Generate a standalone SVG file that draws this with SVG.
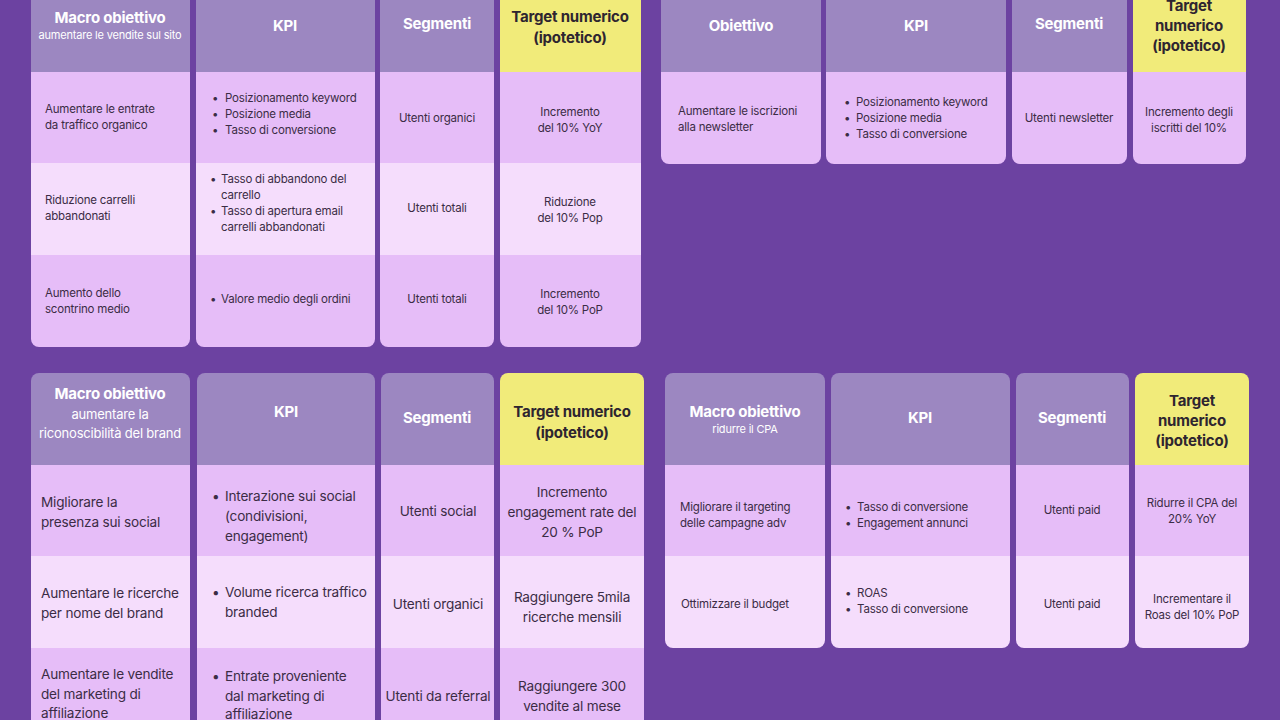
<svg xmlns="http://www.w3.org/2000/svg" width="1280" height="720" viewBox="0 0 1280 720">
<style>
text{font-family:Inter,"Noto Sans",sans-serif;fill:#3b2c45;letter-spacing:-0.2px}
.h{font-weight:700;font-size:15px;fill:#fff;text-anchor:middle}
.hy{font-weight:700;font-size:15px;fill:#2e2530;text-anchor:middle}
.hs{font-size:11px;fill:#fff;text-anchor:middle}
.hm{font-size:13px;fill:#fff;text-anchor:middle}
.s{font-size:11.5px}
.sc{font-size:11.5px;text-anchor:middle}
.l{font-size:13.6px}
.lc{font-size:13.6px;text-anchor:middle}
.hd{fill:#9c87c1}.y{fill:#f1eb7a}.d{fill:#e6bdf8}.li{fill:#f5ddfc}
</style>
<defs>
<clipPath id="t1a"><rect x="31" y="-20" width="159" height="367" rx="8"/></clipPath>
<clipPath id="t1b"><rect x="196" y="-20" width="179" height="367" rx="8"/></clipPath>
<clipPath id="t1c"><rect x="380" y="-20" width="114" height="367" rx="8"/></clipPath>
<clipPath id="t1d"><rect x="500" y="-20" width="141" height="367" rx="8"/></clipPath>
<clipPath id="t2a"><rect x="661" y="-20" width="160" height="184" rx="8"/></clipPath>
<clipPath id="t2b"><rect x="826" y="-20" width="180" height="184" rx="8"/></clipPath>
<clipPath id="t2c"><rect x="1012" y="-20" width="115" height="184" rx="8"/></clipPath>
<clipPath id="t2d"><rect x="1133" y="-20" width="113" height="184" rx="8"/></clipPath>
<clipPath id="t3a"><rect x="31" y="373" width="159" height="380" rx="8"/></clipPath>
<clipPath id="t3b"><rect x="197" y="373" width="178" height="380" rx="8"/></clipPath>
<clipPath id="t3c"><rect x="381" y="373" width="113" height="380" rx="8"/></clipPath>
<clipPath id="t3d"><rect x="500" y="373" width="144" height="380" rx="8"/></clipPath>
<clipPath id="t4a"><rect x="665" y="373" width="160" height="275" rx="8"/></clipPath>
<clipPath id="t4b"><rect x="831" y="373" width="179" height="275" rx="8"/></clipPath>
<clipPath id="t4c"><rect x="1016" y="373" width="113" height="275" rx="8"/></clipPath>
<clipPath id="t4d"><rect x="1135" y="373" width="114" height="275" rx="8"/></clipPath>
</defs>
<rect width="1280" height="720" fill="#6c42a1"/>

<g id="table1">
<g clip-path="url(#t1a)"><rect class="hd" x="31" y="-20" width="159" height="92"/><rect class="d" x="31" y="72" width="159" height="91"/><rect class="li" x="31" y="163" width="159" height="92"/><rect class="d" x="31" y="255" width="159" height="92"/></g>
<g clip-path="url(#t1b)"><rect class="hd" x="196" y="-20" width="179" height="92"/><rect class="d" x="196" y="72" width="179" height="91"/><rect class="li" x="196" y="163" width="179" height="92"/><rect class="d" x="196" y="255" width="179" height="92"/></g>
<g clip-path="url(#t1c)"><rect class="hd" x="380" y="-20" width="114" height="92"/><rect class="d" x="380" y="72" width="114" height="91"/><rect class="li" x="380" y="163" width="114" height="92"/><rect class="d" x="380" y="255" width="114" height="92"/></g>
<g clip-path="url(#t1d)"><rect class="y" x="500" y="-20" width="141" height="92"/><rect class="d" x="500" y="72" width="141" height="91"/><rect class="li" x="500" y="163" width="141" height="92"/><rect class="d" x="500" y="255" width="141" height="92"/></g>
<text class="h" x="110" y="23">Macro obiettivo</text><text class="hs" x="110" y="39">aumentare le vendite sul sito</text>
<text class="h" x="285" y="31">KPI</text><text class="h" x="437" y="29">Segmenti</text>
<text class="hy" x="570" y="22">Target numerico</text><text class="hy" x="570" y="43">(ipotetico)</text>
<text class="s" x="45" y="113">Aumentare le entrate</text><text class="s" x="45" y="129">da traffico organico</text>
<text class="s" x="212" y="102">•</text><text class="s" x="225" y="102">Posizionamento keyword</text>
<text class="s" x="212" y="118">•</text><text class="s" x="225" y="118">Posizione media</text>
<text class="s" x="212" y="134">•</text><text class="s" x="225" y="134">Tasso di conversione</text>
<text class="sc" x="437" y="122">Utenti organici</text>
<text class="sc" x="570" y="116">Incremento</text><text class="sc" x="570" y="132">del 10% YoY</text>
<text class="s" x="45" y="204">Riduzione carrelli</text><text class="s" x="45" y="220">abbandonati</text>
<text class="s" x="210" y="183">•</text><text class="s" x="221" y="183">Tasso di abbandono del</text><text class="s" x="221" y="199">carrello</text>
<text class="s" x="210" y="215">•</text><text class="s" x="221" y="215">Tasso di apertura email</text><text class="s" x="221" y="231">carrelli abbandonati</text>
<text class="sc" x="437" y="212">Utenti totali</text>
<text class="sc" x="570" y="206">Riduzione</text><text class="sc" x="570" y="222">del 10% Pop</text>
<text class="s" x="45" y="297">Aumento dello</text><text class="s" x="45" y="313">scontrino medio</text>
<text class="s" x="210" y="303">•</text><text class="s" x="221" y="303">Valore medio degli ordini</text>
<text class="sc" x="437" y="303">Utenti totali</text>
<text class="sc" x="570" y="298">Incremento</text><text class="sc" x="570" y="314">del 10% PoP</text>
</g>

<g id="table2">
<g clip-path="url(#t2a)"><rect class="hd" x="661" y="-20" width="160" height="92"/><rect class="d" x="661" y="72" width="160" height="92"/></g>
<g clip-path="url(#t2b)"><rect class="hd" x="826" y="-20" width="180" height="92"/><rect class="d" x="826" y="72" width="180" height="92"/></g>
<g clip-path="url(#t2c)"><rect class="hd" x="1012" y="-20" width="115" height="92"/><rect class="d" x="1012" y="72" width="115" height="92"/></g>
<g clip-path="url(#t2d)"><rect class="y" x="1133" y="-20" width="113" height="92"/><rect class="d" x="1133" y="72" width="113" height="92"/></g>
<text class="h" x="741" y="31">Obiettivo</text><text class="h" x="916" y="31">KPI</text><text class="h" x="1069" y="29">Segmenti</text>
<text class="hy" x="1189" y="11">Target</text><text class="hy" x="1189" y="31">numerico</text><text class="hy" x="1189" y="51">(ipotetico)</text>
<text class="s" x="678" y="115">Aumentare le iscrizioni</text><text class="s" x="678" y="131">alla newsletter</text>
<text class="s" x="844" y="106">•</text><text class="s" x="856" y="106">Posizionamento keyword</text>
<text class="s" x="844" y="122">•</text><text class="s" x="856" y="122">Posizione media</text>
<text class="s" x="844" y="138">•</text><text class="s" x="856" y="138">Tasso di conversione</text>
<text class="sc" x="1069" y="122">Utenti newsletter</text>
<text class="sc" x="1189" y="116">Incremento degli</text><text class="sc" x="1189" y="132">iscritti del 10%</text>
</g>

<g id="table3">
<g clip-path="url(#t3a)"><rect class="hd" x="31" y="373" width="159" height="92"/><rect class="d" x="31" y="465" width="159" height="91"/><rect class="li" x="31" y="556" width="159" height="92"/><rect class="d" x="31" y="648" width="159" height="92"/></g>
<g clip-path="url(#t3b)"><rect class="hd" x="197" y="373" width="178" height="92"/><rect class="d" x="197" y="465" width="178" height="91"/><rect class="li" x="197" y="556" width="178" height="92"/><rect class="d" x="197" y="648" width="178" height="92"/></g>
<g clip-path="url(#t3c)"><rect class="hd" x="381" y="373" width="113" height="92"/><rect class="d" x="381" y="465" width="113" height="91"/><rect class="li" x="381" y="556" width="113" height="92"/><rect class="d" x="381" y="648" width="113" height="92"/></g>
<g clip-path="url(#t3d)"><rect class="y" x="500" y="373" width="144" height="92"/><rect class="d" x="500" y="465" width="144" height="91"/><rect class="li" x="500" y="556" width="144" height="92"/><rect class="d" x="500" y="648" width="144" height="92"/></g>
<text class="h" x="110" y="399">Macro obiettivo</text><text class="hm" x="110" y="419">aumentare la</text><text class="hm" x="110" y="438">riconoscibilità del brand</text>
<text class="h" x="286" y="417">KPI</text><text class="h" x="437" y="423">Segmenti</text>
<text class="hy" x="572" y="417">Target numerico</text><text class="hy" x="572" y="438">(ipotetico)</text>
<text class="l" x="41" y="507">Migliorare la</text><text class="l" x="41" y="527">presenza sui social</text>
<text class="l" x="212" y="501">•</text><text class="l" x="225" y="501">Interazione sui social</text><text class="l" x="225" y="521">(condivisioni,</text><text class="l" x="225" y="541">engagement)</text>
<text class="lc" x="438" y="516">Utenti social</text>
<text class="lc" x="572" y="497">Incremento</text><text class="lc" x="572" y="517">engagement rate del</text><text class="lc" x="572" y="537">20 % PoP</text>
<text class="l" x="41" y="598">Aumentare le ricerche</text><text class="l" x="41" y="618">per nome del brand</text>
<text class="l" x="212" y="597">•</text><text class="l" x="225" y="597">Volume ricerca traffico</text><text class="l" x="225" y="617">branded</text>
<text class="lc" x="438" y="609">Utenti organici</text>
<text class="lc" x="572" y="602">Raggiungere 5mila</text><text class="lc" x="572" y="622">ricerche mensili</text>
<text class="l" x="41" y="679">Aumentare le vendite</text><text class="l" x="41" y="699">del marketing di</text><text class="l" x="41" y="718">affiliazione</text>
<text class="l" x="212" y="681">•</text><text class="l" x="225" y="681">Entrate proveniente</text><text class="l" x="225" y="701">dal marketing di</text><text class="l" x="225" y="719">affiliazione</text>
<text class="lc" x="438" y="701">Utenti da referral</text>
<text class="lc" x="572" y="691">Raggiungere 300</text><text class="lc" x="572" y="711">vendite al mese</text>
</g>

<g id="table4">
<g clip-path="url(#t4a)"><rect class="hd" x="665" y="373" width="160" height="92"/><rect class="d" x="665" y="465" width="160" height="91"/><rect class="li" x="665" y="556" width="160" height="92"/></g>
<g clip-path="url(#t4b)"><rect class="hd" x="831" y="373" width="179" height="92"/><rect class="d" x="831" y="465" width="179" height="91"/><rect class="li" x="831" y="556" width="179" height="92"/></g>
<g clip-path="url(#t4c)"><rect class="hd" x="1016" y="373" width="113" height="92"/><rect class="d" x="1016" y="465" width="113" height="91"/><rect class="li" x="1016" y="556" width="113" height="92"/></g>
<g clip-path="url(#t4d)"><rect class="y" x="1135" y="373" width="114" height="92"/><rect class="d" x="1135" y="465" width="114" height="91"/><rect class="li" x="1135" y="556" width="114" height="92"/></g>
<text class="h" x="745" y="417">Macro obiettivo</text><text class="hs" x="745" y="433">ridurre il CPA</text>
<text class="h" x="920" y="423">KPI</text><text class="h" x="1072" y="423">Segmenti</text>
<text class="hy" x="1192" y="406">Target</text><text class="hy" x="1192" y="426">numerico</text><text class="hy" x="1192" y="446">(ipotetico)</text>
<text class="s" x="680" y="511">Migliorare il targeting</text><text class="s" x="680" y="527">delle campagne adv</text>
<text class="s" x="845" y="511">•</text><text class="s" x="857" y="511">Tasso di conversione</text>
<text class="s" x="845" y="527">•</text><text class="s" x="857" y="527">Engagement annunci</text>
<text class="sc" x="1072" y="514">Utenti paid</text>
<text class="sc" x="1192" y="507">Ridurre il CPA del</text><text class="sc" x="1192" y="523">20% YoY</text>
<text class="s" x="681" y="608">Ottimizzare il budget</text>
<text class="s" x="845" y="597">•</text><text class="s" x="857" y="597">ROAS</text>
<text class="s" x="845" y="613">•</text><text class="s" x="857" y="613">Tasso di conversione</text>
<text class="sc" x="1072" y="608">Utenti paid</text>
<text class="sc" x="1192" y="603">Incrementare il</text><text class="sc" x="1192" y="619">Roas del 10% PoP</text>
</g>
<g id="connectors"/>
</svg>
